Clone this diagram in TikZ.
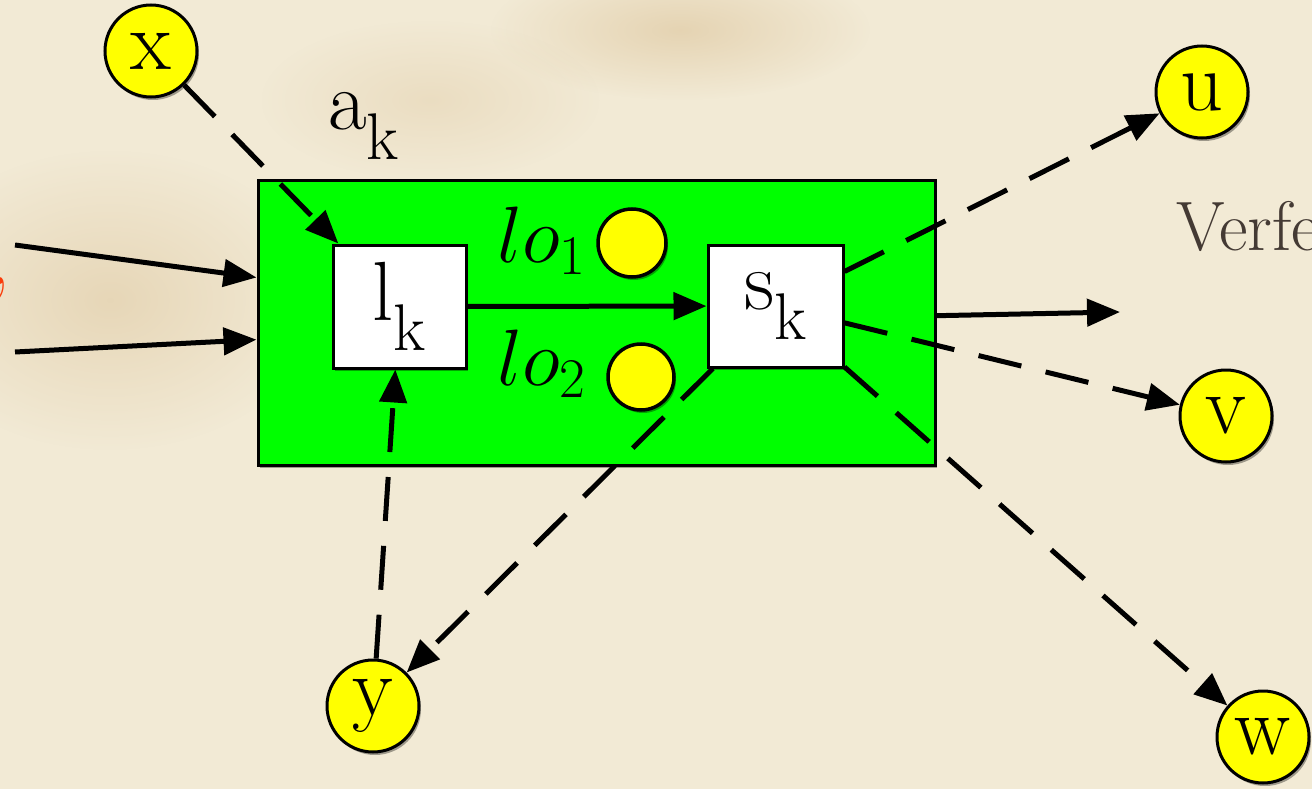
\RequirePackage{fix-cm}
\documentclass[tikz,border=0pt]{standalone}
\usepackage[no-math]{fontspec}
\newcommand{\tnr}{\rmfamily\addfontfeatures{FakeBold=1.3}}
\usetikzlibrary{arrows.meta,shadows,fadings}
\definecolor{paper}{RGB}{242,234,213}
\definecolor{stain}{RGB}{205,170,115}
\definecolor{boxgreen}{RGB}{0,255,0}
\definecolor{dotyellow}{RGB}{255,255,0}
\definecolor{verfe}{RGB}{68,58,52}
\definecolor{commared}{RGB}{250,60,10}
\tikzfading[name=softblob,inner color=transparent!0,outer color=transparent!100]
\newcommand{\ksub}{\raisebox{-30pt}{\tnr\fontsize{66}{66}\selectfont k}}
\begin{document}
\begin{tikzpicture}[x=1pt,y=-1pt,
  every node/.style={font=\tnr\fontsize{84}{100}\selectfont},
  arr/.style={line width=5pt,-{Triangle[length=33pt,width=27pt]}},
  dsh/.style={arr,dash pattern=on 44pt off 25pt},
  shad/.style={drop shadow={shadow xshift=2pt,shadow yshift=-3pt,opacity=0.35,fill=black}},
  yc/.style={circle,draw=black,line width=3pt,fill=dotyellow,inner sep=0pt,minimum size=92pt,shad},
  ysmall/.style={circle,draw=black,line width=3.5pt,fill=dotyellow,inner sep=0pt,shad},
  wbox/.style={rectangle,draw=black,line width=3pt,fill=white,inner sep=0pt,shad},
  gbox/.style={rectangle,draw=black,line width=3pt,fill=boxgreen,inner sep=0pt,shad},
  lbl/.style={inner sep=0pt}
]
\useasboundingbox (0,0) rectangle (1312,789);
\clip (0,0) rectangle (1312,789);
\fill[paper] (0,0) rectangle (1312,789);
\fill[stain,opacity=0.35,path fading=softblob] (680,30) ellipse (190 and 70);
\fill[stain,opacity=0.30,path fading=softblob] (110,300) ellipse (210 and 150);
\fill[stain,opacity=0.20,path fading=softblob] (430,100) ellipse (170 and 80);

% main box
\node[gbox,minimum width=677pt,minimum height=285pt] (A) at (596.5,322.5) {};
\node[wbox,minimum width=133pt,minimum height=123pt] (lk) at (399.5,306.5) {l\ksub};
\node[wbox,minimum width=135pt,minimum height=122pt] (sk) at (775.5,306) {s\ksub};

% local objects
\node[lbl,anchor=base west,font=\fontsize{80}{96}\selectfont] (lo1t) at (497,262) {$lo_1$};
\node[ysmall,minimum size=68pt] (lo1) at (632,243) {};
\node[lbl,anchor=base west,font=\fontsize{80}{96}\selectfont] (lo2t) at (497,385) {$lo_2$};
\node[ysmall,minimum size=66pt] (lo2) at (641,377) {};

% label of the box
\node[lbl,anchor=base west] (ak) at (328,130) {a\ksub};

% outer objects
\node[yc] (x) at (151,51) {x};
\node[yc] (u) at (1202,92) {u};
\node[yc] (v) at (1226,416) {v};
\node[yc] (w) at (1263,737) {\raisebox{-12pt}{w}};
\node[yc] (y) at (373,706) {y};

% cut-off texts
\node[lbl,anchor=base west,text=verfe,font=\tnr\fontsize{70}{84}\selectfont] (verf) at (1176,250) {Verfe};
\node[lbl,anchor=base east,text=commared] (comma) at (11,284) {,};

% free ends
\coordinate (in1) at (15,245);
\coordinate (in2) at (15,352);
\coordinate (out) at (1120,312);

% connectors
\draw[arr] (in1) -- (A);
\draw[arr] (in2) -- (A);
\draw[arr] (A) -- (out);
\draw[arr] (lk) -- (sk);
\draw[dsh] (x) -- (lk);
\draw[dsh] (y) -- (lk);
\draw[dsh] (sk) -- (y);
\draw[dsh] (sk) -- (u);
\draw[dsh] (sk) -- (v);
\draw[dsh] (sk) -- (w);
\end{tikzpicture}
\end{document}
